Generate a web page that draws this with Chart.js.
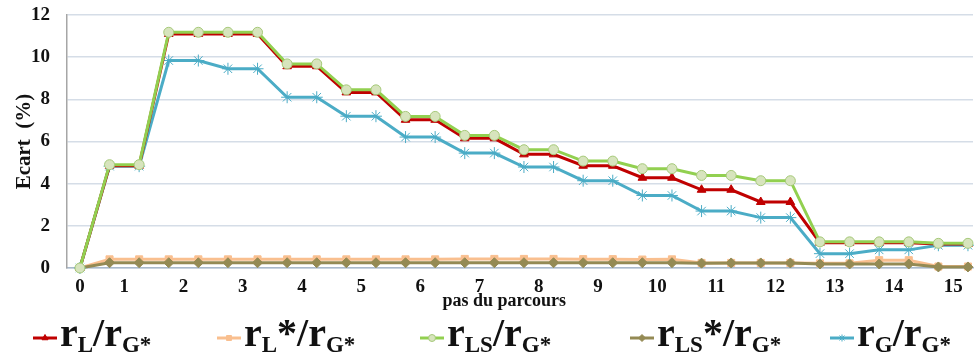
<!DOCTYPE html>
<html>
<head>
<meta charset="utf-8">
<script src="https://cdn.jsdelivr.net/npm/chart.js@4.4.1/dist/chart.umd.min.js"></script>
<style>
  body { margin: 0; background: #fff; }
  #wrap { position: relative; width: 980px; height: 362px; }
  #legend { position: absolute; left: 0; top: 312px; width: 980px; height: 48px;
            font-family: 'Liberation Serif', 'Times New Roman', serif; font-weight: bold; color: #111; }
  .item { position: absolute; top: 0; display: flex; align-items: center; height: 48px; white-space: nowrap; }
  .item canvas { margin-right: 3px; margin-top: 4px; }
  .txt { font-size: 40px; line-height: 48px; }
  .txt sub { font-size: 23px; vertical-align: baseline; position: relative; top: 6px; }
</style>
</head>
<body>
<div id="wrap">
  <canvas id="chart" width="980" height="362"></canvas>
  <div id="legend"></div>
</div>
<script>
'use strict'

// x axis labels (one label per "pas", two points per pas)
const tickLabels = ['0','1','2','3','4','5','6','7','8','9','10','11','12','13','14','15'];

// series, 31 points each
const rL_rG   = [0, 4.85, 4.85, 11.10, 11.10, 11.10, 11.10, 9.57, 9.57, 8.33, 8.33, 7.03, 7.03, 6.15, 6.15, 5.39, 5.39, 4.85, 4.85, 4.28, 4.28, 3.71, 3.71, 3.13, 3.13, 1.20, 1.20, 1.20, 1.20, 1.14, 1.14];
const rLs_rG  = [0, 0.41, 0.41, 0.41, 0.41, 0.41, 0.41, 0.41, 0.41, 0.41, 0.41, 0.41, 0.41, 0.43, 0.43, 0.43, 0.43, 0.42, 0.42, 0.40, 0.41, 0.24, 0.24, 0.24, 0.24, 0.22, 0.22, 0.37, 0.37, 0.07, 0.07];
const rLS_rG  = [0, 4.90, 4.90, 11.18, 11.18, 11.18, 11.18, 9.68, 9.68, 8.45, 8.45, 7.19, 7.19, 6.29, 6.29, 5.61, 5.61, 5.07, 5.07, 4.71, 4.71, 4.39, 4.39, 4.14, 4.14, 1.24, 1.24, 1.24, 1.24, 1.17, 1.17];
const rLSs_rG = [0, 0.25, 0.25, 0.25, 0.25, 0.25, 0.25, 0.25, 0.25, 0.25, 0.25, 0.25, 0.25, 0.25, 0.25, 0.25, 0.25, 0.25, 0.25, 0.25, 0.25, 0.23, 0.24, 0.24, 0.24, 0.19, 0.19, 0.19, 0.19, 0.05, 0.05];
const rG_rG   = [0, 4.83, 4.83, 9.84, 9.84, 9.45, 9.45, 8.10, 8.10, 7.20, 7.20, 6.21, 6.21, 5.45, 5.45, 4.79, 4.79, 4.14, 4.14, 3.44, 3.44, 2.70, 2.70, 2.39, 2.39, 0.68, 0.68, 0.86, 0.86, 1.08, 1.08];

const legendLabels = [
  'r<sub>L</sub>/r<sub>G*</sub>',
  'r<sub>L</sub>*/r<sub>G*</sub>',
  'r<sub>LS</sub>/r<sub>G*</sub>',
  'r<sub>LS</sub>*/r<sub>G*</sub>',
  'r<sub>G</sub>/r<sub>G*</sub>'
];
const legendLeft = [33, 217, 420, 630, 830];

const serif = "'Liberation Serif', 'Times New Roman', serif";

function pts(arr){
  return arr.map(function(v, i){ return {x: i, y: v}; });
}

function series(label, values, color, style, fill, border, order, radius){
  return {
    label: label,
    data: pts(values),
    borderColor: color,
    borderWidth: 3,
    pointStyle: style,
    pointRadius: radius,
    pointBackgroundColor: fill,
    pointBorderColor: border,
    pointBorderWidth: 1,
    order: order,
    clip: false,
    tension: 0
  };
}

const datasets = [
  series('rL/rG*',   rL_rG,   '#C00000', 'triangle', '#C00000', '#C00000', 2, 5),
  series('rL*/rG*',  rLs_rG,  '#F9BF8F', 'rect',     '#F9BF8F', '#F9BF8F', 5, 5),
  series('rLS/rG*',  rLS_rG,  '#92D050', 'circle',   '#D7E4BD', '#A6C97A', 1, 5),
  series('rLS*/rG*', rLSs_rG, '#948A54', 'rectRot',  '#948A54', '#948A54', 4, 5),
  series('rG/rG*',   rG_rG,   '#4BACC6', 'star',     '#4BACC6', '#4BACC6', 3, 6)
];

const ctx = document.getElementById('chart').getContext('2d');
const chart = new Chart(ctx, {
  type: 'line',
  data: { datasets: datasets },
  options: {
    responsive: false,
    animation: false,
    layout: { padding: { left: 0, top: 15, right: 3, bottom: 50 } },
    plugins: { legend: { display: false }, tooltip: { enabled: false } },
    scales: {
      x: {
        type: 'linear',
        min: -0.437,
        max: 30.17,
        grid: { display: false, drawTicks: false },
        border: { display: true, color: '#A9B9CB', width: 1.5 },
        afterBuildTicks: function(scale){
          scale.ticks = tickLabels.map(function(t, k){ return { value: k === 0 ? 0 : 2 * k - 0.5 }; });
        },
        afterFit: function(scale){
          scale.height = 44;
          scale.paddingLeft = 0; scale.paddingRight = 0;
        },
        ticks: {
          autoSkip: false,
          maxRotation: 0,
          padding: 8,
          color: '#111',
          font: { family: serif, size: 19, weight: 'bold' },
          callback: function(v, i){ return tickLabels[i]; }
        },
        title: {
          display: true,
          text: 'pas du parcours       ',
          color: '#111',
          padding: { top: 0, bottom: 0 },
          font: { family: serif, size: 18, weight: 'bold' }
        }
      },
      y: {
        min: 0,
        max: 12,
        grid: { color: '#D5DDE7', lineWidth: 1.5, drawTicks: false },
        border: { display: true, color: '#A6A6A6', width: 1.5 },
        afterFit: function(scale){
          scale.width = 67;
          scale.paddingTop = 0; scale.paddingBottom = 0;
        },
        ticks: {
          stepSize: 2,
          padding: 17,
          color: '#111',
          font: { family: serif, size: 19, weight: 'bold' }
        },
        title: {
          display: true,
          text: 'Ecart  (%)',
          color: '#111',
          padding: { top: 12, bottom: 0 },
          font: { family: serif, size: 21, weight: 'bold' }
        }
      }
    }
  }
});

// legend with subscripts, built from the datasets
const legend = document.getElementById('legend');
chart.data.datasets.forEach(function(ds, k){
  const item = document.createElement('div');
  item.className = 'item';
  item.style.left = legendLeft[k] + 'px';

  const c = document.createElement('canvas');
  c.width = 24; c.height = 14;
  const g = c.getContext('2d');
  g.strokeStyle = ds.borderColor;
  g.lineWidth = 3;
  g.beginPath(); g.moveTo(0, 7); g.lineTo(24, 7); g.stroke();
  g.fillStyle = ds.pointBackgroundColor;
  g.strokeStyle = ds.pointBorderColor;
  g.lineWidth = 1;
  Chart.helpers.drawPoint(g, { pointStyle: ds.pointStyle, radius: 3.5, borderWidth: 1, rotation: 0 }, 12, 7);

  const txt = document.createElement('span');
  txt.className = 'txt';
  txt.innerHTML = legendLabels[k];

  item.appendChild(c);
  item.appendChild(txt);
  legend.appendChild(item);
});
</script>
</body>
</html>
